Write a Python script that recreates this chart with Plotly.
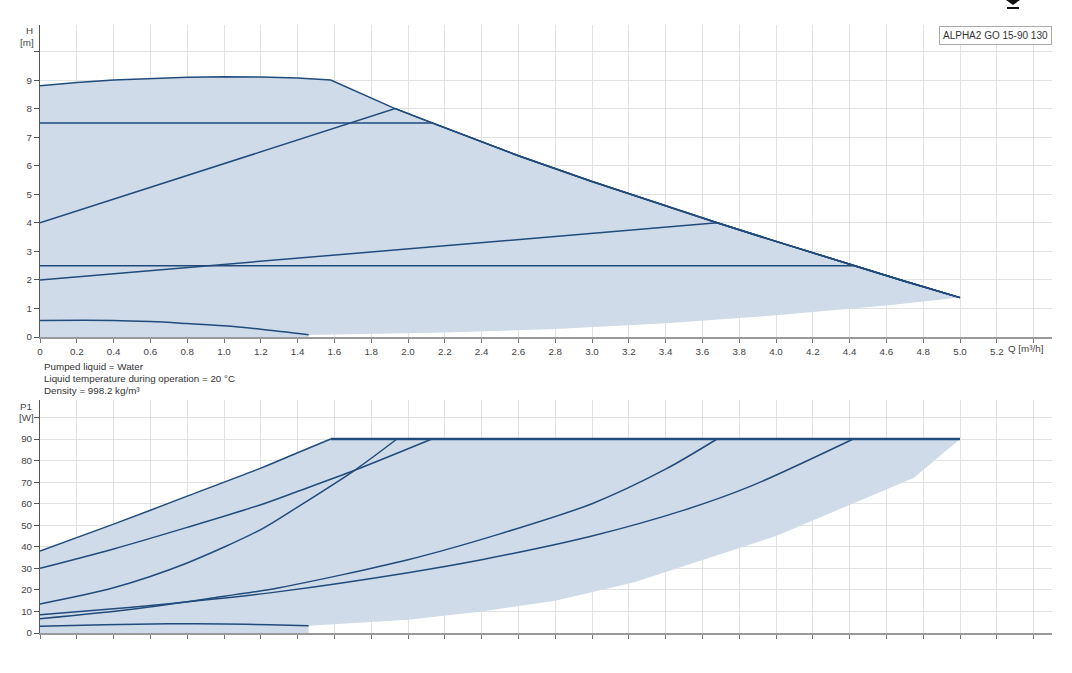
import plotly.graph_objects as go

# ---------------- data ----------------
# Head chart (Q in m3/h, H in m)
max_h_q = [0, 0.2, 0.4, 0.6, 0.8, 1.0, 1.2, 1.4, 1.58, 1.93, 2.13, 2.6, 3.0, 3.4, 3.68, 4.0, 4.42, 4.7, 5.0]
max_h = [8.8, 8.92, 9.0, 9.06, 9.1, 9.12, 9.11, 9.07, 9.0, 8.0, 7.5, 6.35, 5.45, 4.6, 4.0, 3.35, 2.5, 1.95, 1.38]

pp_high_q = [0, 1.93]
pp_high_h = [4.0, 8.0]
cp_high_q = [0, 2.13]
cp_high_h = [7.5, 7.5]
pp_low_q = [0, 3.68]
pp_low_h = [2.0, 4.0]
cp_low_q = [0, 4.42]
cp_low_h = [2.5, 2.5]
min_h_q = [0, 0.4, 0.6, 0.8, 1.0, 1.2, 1.46]
min_h = [0.58, 0.58, 0.54, 0.47, 0.39, 0.27, 0.08]

h_lower_q = [5.0, 4.6, 4.0, 3.4, 2.8, 2.2, 1.46, 1.46, 0]
h_lower = [1.38, 1.1, 0.76, 0.48, 0.28, 0.16, 0.07, 0, 0]

# Power chart (Q in m3/h, P1 in W)
max_p_q = [0, 0.4, 0.8, 1.2, 1.41, 1.58]
max_p = [38, 50.5, 63.5, 76.5, 84, 90]
limit_p_q = [1.58, 5.0]
limit_p = [90, 90]
cp_high_p_q = [0, 0.4, 0.8, 1.2, 1.41, 1.71, 2.13]
cp_high_p = [30, 39, 49, 59.5, 66, 75.5, 90]
pp_high_p_q = [0, 0.4, 0.8, 1.2, 1.41, 1.71, 1.94]
pp_high_p = [13.5, 21, 32.5, 48, 59, 75.5, 90]
pp_low_p_q = [0, 0.5, 0.92, 1.3, 2.0, 2.5, 3.0, 3.4, 3.68]
pp_low_p = [6.6, 11, 16, 21, 34, 46, 60, 76, 90]
cp_low_p_q = [0, 0.5, 0.92, 1.3, 2.0, 2.4, 3.0, 3.5, 3.86, 4.42]
cp_low_p = [8.5, 12, 15.5, 19.2, 28, 34, 45, 57, 68, 90]
min_p_q = [0, 0.35, 0.7, 1.0, 1.25, 1.46]
min_p = [3.1, 3.8, 4.3, 4.2, 3.8, 3.4]

p_lower_q = [5.0, 4.85, 4.75, 4.0, 3.23, 2.8, 2.4, 2.0, 1.6, 1.46, 1.46, 0]
p_lower = [90, 79, 72, 45, 23.6, 15, 10, 6.2, 3.9, 3.4, 0, 0]

# ticks
q_tickvals = [0, 0.2, 0.4, 0.6, 0.8, 1.0, 1.2, 1.4, 1.6, 1.8, 2.0, 2.2, 2.4, 2.6, 2.8, 3.0,
              3.2, 3.4, 3.6, 3.8, 4.0, 4.2, 4.4, 4.6, 4.8, 5.0, 5.2, 5.4]
q_ticktext = ["0", "0.2", "0.4", "0.6", "0.8", "1.0", "1.2", "1.4", "1.6", "1.8", "2.0", "2.2",
              "2.4", "2.6", "2.8", "3.0", "3.2", "3.4", "3.6", "3.8", "4.0", "4.2", "4.4", "4.6",
              "4.8", "5.0", "5.2", ""]
h_tickvals = [0, 1, 2, 3, 4, 5, 6, 7, 8, 9, 10]
h_ticktext = ["0", "1", "2", "3", "4", "5", "6", "7", "8", "9", ""]
p_tickvals = [0, 10, 20, 30, 40, 50, 60, 70, 80, 90, 100]
p_ticktext = ["0", "10", "20", "30", "40", "50", "60", "70", "80", "90", ""]

title_text = "ALPHA2 GO 15-90 130"
info_lines = ["Pumped liquid = Water",
              "Liquid temperature during operation = 20 °C",
              "Density = 998.2 kg/m³"]

# ---------------- style ----------------
LINE = "#214b7b"
FILL = "#cfdbe8"
GRID = "#e2e2e2"
FONT = "Arial, Liberation Sans, sans-serif"
TXT = "#444444"

fig = go.Figure()

# fills
fig.add_trace(go.Scatter(x=max_h_q + h_lower_q, y=max_h + h_lower, fill="toself",
                         fillcolor=FILL, line=dict(width=0), mode="lines",
                         hoverinfo="skip", xaxis="x", yaxis="y"))
fig.add_trace(go.Scatter(x=max_p_q + limit_p_q + p_lower_q, y=max_p + limit_p + p_lower,
                         fill="toself", fillcolor=FILL, line=dict(width=0), mode="lines",
                         hoverinfo="skip", xaxis="x2", yaxis="y2"))

# head curves
h_curves = [
    (max_h_q, max_h, "linear"),
    (pp_high_q + max_h_q[10:], pp_high_h + max_h[10:], "linear"),
    (cp_high_q + max_h_q[11:], cp_high_h + max_h[11:], "linear"),
    (pp_low_q + max_h_q[15:], pp_low_h + max_h[15:], "linear"),
    (cp_low_q + max_h_q[17:], cp_low_h + max_h[17:], "linear"),
    (min_h_q, min_h, "spline"),
]
for qx, hy, shp in h_curves:
    fig.add_trace(go.Scatter(x=qx, y=hy, mode="lines",
                             line=dict(color=LINE, width=1.5, shape=shp),
                             xaxis="x", yaxis="y"))

p_curves = [
    (max_p_q, max_p),
    (cp_high_p_q, cp_high_p),
    (pp_high_p_q, pp_high_p),
    (pp_low_p_q, pp_low_p),
    (cp_low_p_q, cp_low_p),
    (min_p_q, min_p),
]
for qx, py in p_curves:
    fig.add_trace(go.Scatter(x=qx, y=py, mode="lines",
                             line=dict(color=LINE, width=1.5, shape="spline", smoothing=0.8),
                             xaxis="x2", yaxis="y2"))
fig.add_trace(go.Scatter(x=limit_p_q, y=limit_p, mode="lines",
                         line=dict(color=LINE, width=2.3), xaxis="x2", yaxis="y2"))

W, H = 1072, 673
ML, MR, MT, MB = 40, 20, 25, 40
PW, PH = W - ML - MR, H - MT - MB


def px(xp):
    return (xp - ML) / PW


def py_(yp):
    return (H - MB - yp) / PH


top_dom = [py_(337), 1.0]
bot_dom = [0.0, py_(400)]

xcommon = dict(range=[0, 5.5], tickmode="array", tickvals=q_tickvals, showgrid=True,
               gridcolor=GRID, gridwidth=1, zeroline=False, showline=True,
               linecolor="#999999", linewidth=2, ticks="outside", ticklen=4,
               tickcolor="#777777", tickfont=dict(family=FONT, size=9.8, color=TXT))
ycommon = dict(showgrid=True, gridcolor=GRID, gridwidth=1, zeroline=False, showline=True,
               linecolor="#555555", linewidth=1, ticks="outside", ticklen=5,
               tickcolor="#555555", tickfont=dict(family=FONT, size=9.8, color=TXT),
               tickmode="array")

fig.update_layout(
    width=W, height=H, showlegend=False,
    paper_bgcolor="white", plot_bgcolor="white",
    margin=dict(l=ML, r=MR, t=MT, b=MB),
    font=dict(family=FONT, size=9.8, color=TXT),
    xaxis=dict(xcommon, anchor="y", ticktext=q_ticktext),
    yaxis=dict(ycommon, domain=top_dom, range=[0, 10.93], tickvals=h_tickvals,
               ticktext=h_ticktext, anchor="x"),
    xaxis2=dict(xcommon, anchor="y2", ticktext=["" for _ in q_tickvals], matches="x"),
    yaxis2=dict(ycommon, domain=bot_dom, range=[0, 108.1], tickvals=p_tickvals,
                ticktext=p_ticktext, anchor="x2"),
)

fs = dict(family=FONT, size=9.8, color=TXT)
ann = []
ann.append(dict(text="H", x=px(29), y=py_(30), xref="paper", yref="paper",
                xanchor="center", yanchor="middle", showarrow=False, font=fs))
ann.append(dict(text="[m]", x=px(36), y=py_(42), xref="paper", yref="paper",
                xanchor="right", yanchor="middle", showarrow=False, font=fs))
ann.append(dict(text="P1", x=px(34), y=py_(406), xref="paper", yref="paper",
                xanchor="right", yanchor="middle", showarrow=False, font=fs))
ann.append(dict(text="[W]", x=px(36), y=py_(418), xref="paper", yref="paper",
                xanchor="right", yanchor="middle", showarrow=False, font=fs))
ann.append(dict(text="Q [m³/h]", x=px(1006), y=py_(348), xref="paper", yref="paper",
                xanchor="left", yanchor="middle", showarrow=False, font=fs))
for i, t in enumerate(info_lines):
    ann.append(dict(text=t, x=px(42), y=py_(366 + 12 * i), xref="paper", yref="paper",
                    xanchor="left", yanchor="middle", showarrow=False,
                    font=dict(family=FONT, size=9.8, color="#333333")))
ann.append(dict(text=title_text, x=px(1052), y=py_(26), xref="paper", yref="paper",
                xanchor="right", yanchor="top", showarrow=False,
                bordercolor="#aaaaaa", borderwidth=1, borderpad=3, bgcolor="white",
                font=dict(family=FONT, size=10, color="#333333")))
fig.update_layout(annotations=ann)

# download icon
fig.add_shape(type="path", xref="paper", yref="paper",
              path=f"M {px(1006)},{py_(0)} L {px(1020)},{py_(0)} L {px(1013)},{py_(5)} Z",
              fillcolor="#111111", line=dict(width=0))
fig.add_shape(type="rect", xref="paper", yref="paper",
              x0=px(1007), x1=px(1019), y0=py_(9), y1=py_(7),
              fillcolor="#111111", line=dict(width=0))

fig.write_html("out.html", config={"displayModeBar": False},
               post_script="document.body.style.margin='0px';")
